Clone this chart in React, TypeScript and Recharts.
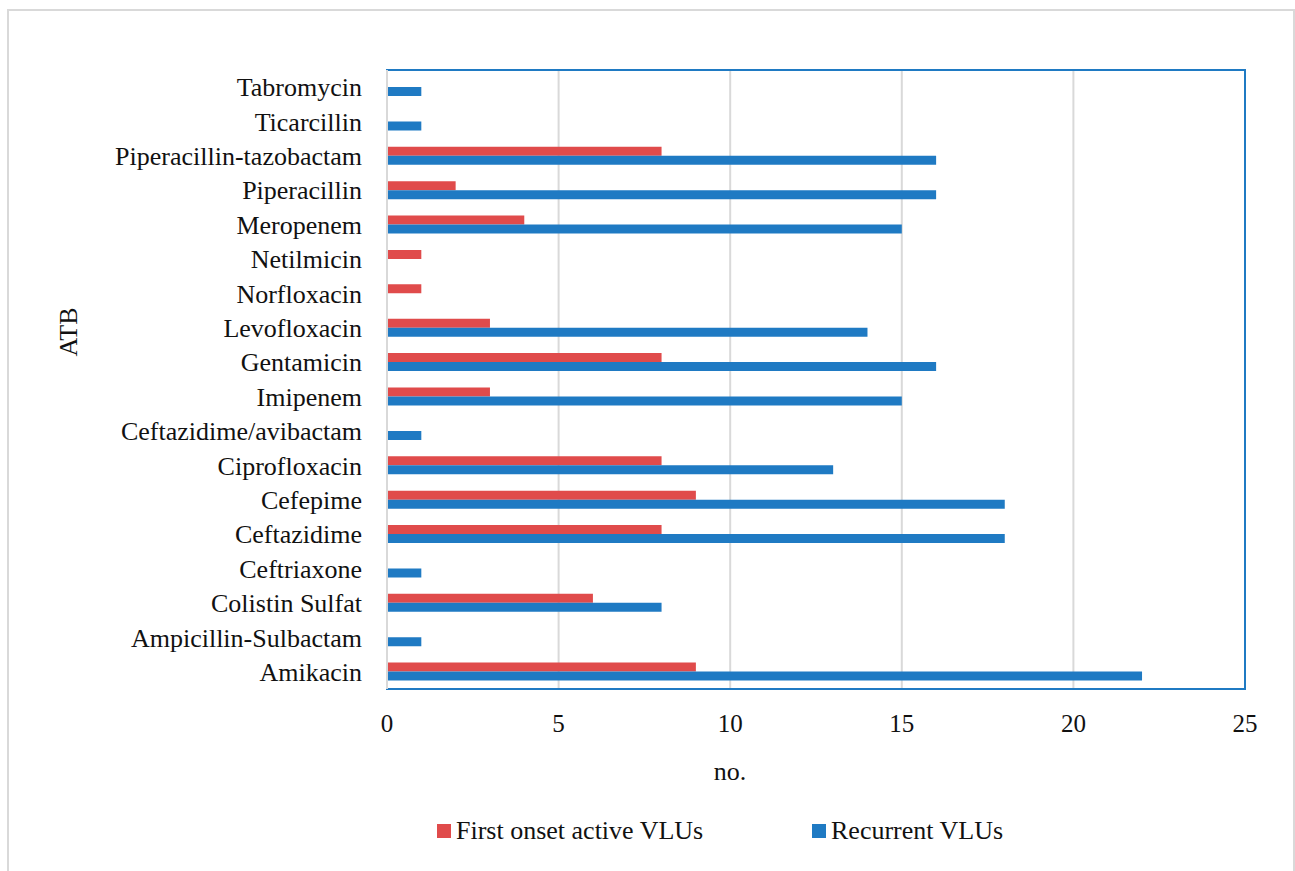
import { BarChart, Bar, XAxis, YAxis, CartesianGrid, ReferenceArea } from 'recharts';

const drugs = [
  'Tabromycin',
  'Ticarcillin',
  'Piperacillin-tazobactam',
  'Piperacillin',
  'Meropenem',
  'Netilmicin',
  'Norfloxacin',
  'Levofloxacin',
  'Gentamicin',
  'Imipenem',
  'Ceftazidime/avibactam',
  'Ciprofloxacin',
  'Cefepime',
  'Ceftazidime',
  'Ceftriaxone',
  'Colistin Sulfat',
  'Ampicillin-Sulbactam',
  'Amikacin',
];
const firstOnset = [0, 0, 8, 2, 4, 1, 1, 3, 8, 3, 0, 8, 9, 8, 0, 6, 0, 9];
const recurrent = [1, 1, 16, 16, 15, 0, 0, 14, 16, 15, 1, 13, 18, 18, 1, 8, 1, 22];
const xTicks = [0, 5, 10, 15, 20, 25];
const seriesNames = ['First onset active VLUs', 'Recurrent VLUs'];

const RED = '#E04B4B';
const BLUE = '#1F7AC3';
const FONT = 'Liberation Serif, Times New Roman, serif';

const data = drugs.map((name, i) => ({ name, first: firstOnset[i], recurrent: recurrent[i] }));

const YTick = (props: any) => {
  const { x, y, payload } = props;
  return (
    <text x={x} y={y} dy="0.35em" textAnchor="end" fill="#111" style={{ fontFamily: FONT, fontSize: 26 }}>
      {payload.value}
    </text>
  );
};

const XTick = (props: any) => {
  const { x, y, payload } = props;
  return (
    <text x={x} y={y} dy="0.71em" textAnchor="middle" fill="#111" style={{ fontFamily: FONT, fontSize: 25 }}>
      {payload.value}
    </text>
  );
};

export default function App() {
  return (
    <div style={{ position: 'absolute', left: 0, top: 0, width: 1295, height: 871, overflow: 'hidden', background: '#fff', fontFamily: FONT }}>
      <div
        style={{
          position: 'absolute',
          left: 7,
          top: 9,
          width: 1288,
          height: 900,
          boxSizing: 'border-box',
          border: '2px solid #D9D9D9',
        }}
      />
      <div style={{ position: 'absolute', left: 0, top: 0 }}>
        <BarChart
          width={1295}
          height={871}
          data={data}
          layout="vertical"
          margin={{ top: 70, right: 50, bottom: 122, left: 17 }}
          barGap={0}
          style={{ fontFamily: FONT }}
        >
          <CartesianGrid horizontal={false} stroke="#D9D9D9" strokeWidth={2} />
          <XAxis
            type="number"
            domain={[0, 25]}
            ticks={xTicks}
            height={60}
            axisLine={false}
            tickLine={false}
            tickSize={0}
            tickMargin={25}
            tick={<XTick />}
          />
          <YAxis
            type="category"
            dataKey="name"
            width={370}
            axisLine={{ stroke: '#D9D9D9', strokeWidth: 2 }}
            tickLine={false}
            tickSize={0}
            tickMargin={25}
            interval={0}
            tick={<YTick />}
          />
          <ReferenceArea x1={0} x2={25} fill="none" stroke={BLUE} strokeWidth={2} ifOverflow="visible" />
          <Bar dataKey="first" name={seriesNames[0]} fill={RED} barSize={9} isAnimationActive={false} />
          <Bar dataKey="recurrent" name={seriesNames[1]} fill={BLUE} barSize={9} isAnimationActive={false} />
        </BarChart>
      </div>
      <div style={{ position: 'absolute', left: 0, top: 816, width: 1295, height: 32, fontSize: 26, color: '#111' }}>
        <span style={{ position: 'absolute', left: 437, top: 8, width: 14, height: 14, background: RED }} />
        <span style={{ position: 'absolute', left: 456, top: 0, lineHeight: '30px', whiteSpace: 'nowrap' }}>{seriesNames[0]}</span>
        <span style={{ position: 'absolute', left: 812, top: 8, width: 14, height: 14, background: BLUE }} />
        <span style={{ position: 'absolute', left: 831, top: 0, lineHeight: '30px', whiteSpace: 'nowrap' }}>{seriesNames[1]}</span>
      </div>
      <div
        style={{
          position: 'absolute',
          left: 69,
          top: 332,
          transform: 'translate(-50%, -50%) rotate(-90deg)',
          fontSize: 26,
          color: '#111',
          whiteSpace: 'nowrap',
        }}
      >
        ATB
      </div>
      <div
        style={{
          position: 'absolute',
          left: 730,
          top: 772,
          transform: 'translate(-50%, -50%)',
          fontSize: 26,
          color: '#111',
          whiteSpace: 'nowrap',
        }}
      >
        no.
      </div>
    </div>
  );
}
